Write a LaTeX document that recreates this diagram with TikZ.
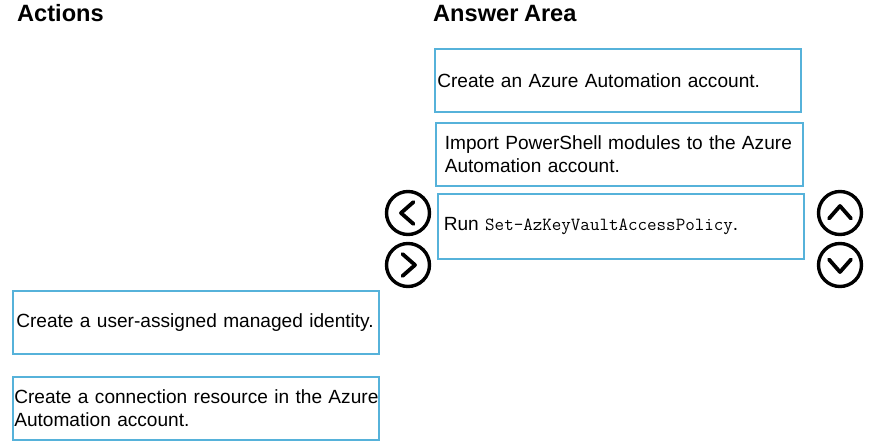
\documentclass[tikz,border=0pt]{standalone}
\usepackage{fontspec}
\setmainfont{Liberation Sans}[WordSpace=0.85]
\usepackage{tikz}
\usepackage{xcolor}
\usetikzlibrary{positioning}
\definecolor{azureline}{RGB}{86,178,218}

\tikzset{
  actionbox/.style={draw=azureline, line width=1.6pt, rectangle, anchor=north west,
    minimum height=63pt, inner xsep=2.5pt, inner ysep=0pt, align=left,
    font=\fontsize{19.1}{22.5}\selectfont},
  heading/.style={anchor=base west, inner sep=0pt, font=\fontsize{23.6}{26}\selectfont\bfseries},
  btn/.style={circle, draw=black, line width=3.4pt, minimum size=43pt, inner sep=0pt},
  chev/.style={line width=3.8pt, line cap=round, line join=round}
}

\begin{document}
\begin{tikzpicture}[x=1pt, y=-1pt]
        \useasboundingbox (0,0) rectangle (871,446);

        % Headings
        \node [heading] (actions) at (17,22) {Actions};
        \node [heading] (answer) at (433,22) {Answer Area};

        % Answer Area
        \node [actionbox, text width=361pt] (automation) at (434,48) {\mbox{Create an Azure Automation account.}};
        \node [actionbox, inner xsep=9pt, text width=349pt] (modules) at (435,122) {\mbox{Import PowerShell modules to the Azure}\\\mbox{Automation account.}};
        \node [actionbox, inner xsep=6pt, text width=354pt, minimum height=65pt] (policy) at (437,193) {\mbox{Run \texttt{\fontsize{18.5}{20}\selectfont Set-AzKeyVaultAccessPolicy}.}};

        % Actions
        \node [actionbox, inner xsep=3.5pt, text width=359pt] (identity) at (12,290) {\mbox{Create a user-assigned managed identity.}};
        \node [actionbox, inner xsep=1.5pt, text width=363pt] (connection) at (12,376) {\mbox{Create a connection resource in the Azure}\\\mbox{Automation account.}};

        % Move buttons
        \node [btn] (moveleft) at (408,213) {};
        \node [btn] (moveright) at (408,265) {};
        \node [btn] (moveup) at (840,213) {};
        \node [btn] (movedown) at (840,265) {};

        \draw [chev] ([xshift=5.5pt, yshift=-11pt]moveleft.center) -- ([xshift=-7pt]moveleft.center) -- ([xshift=5.5pt, yshift=11pt]moveleft.center);
        \draw [chev] ([xshift=-5.5pt, yshift=-11pt]moveright.center) -- ([xshift=7pt]moveright.center) -- ([xshift=-5.5pt, yshift=11pt]moveright.center);
        \draw [chev] ([xshift=-11pt, yshift=-5.5pt]moveup.center) -- ([yshift=7pt]moveup.center) -- ([xshift=11pt, yshift=-5.5pt]moveup.center);
        \draw [chev] ([xshift=-11pt, yshift=5.5pt]movedown.center) -- ([yshift=-7pt]movedown.center) -- ([xshift=11pt, yshift=5.5pt]movedown.center);
    \end{tikzpicture}
\end{document}
